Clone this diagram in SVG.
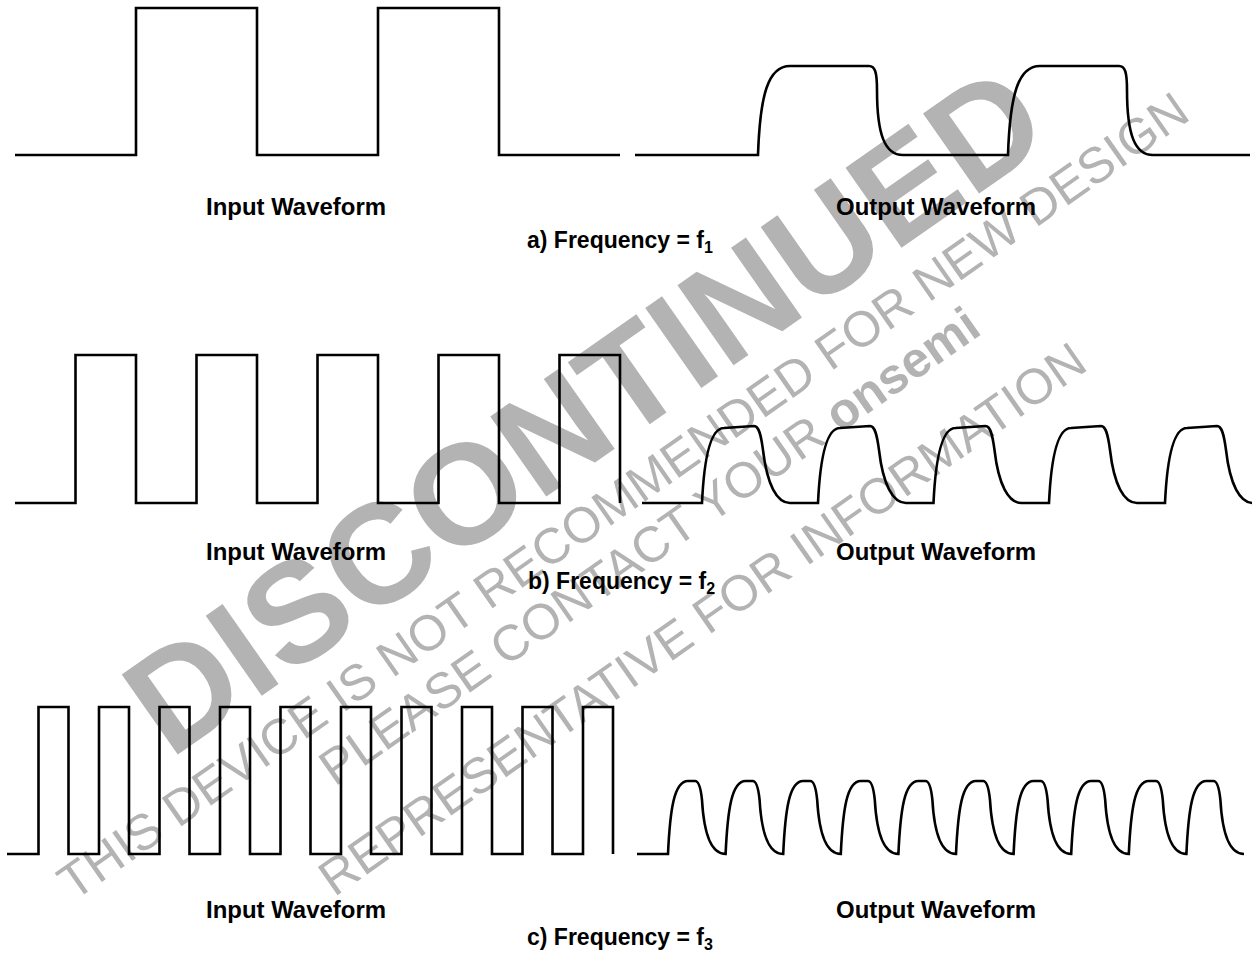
<svg xmlns="http://www.w3.org/2000/svg" width="1252" height="953" viewBox="0 0 1252 953">
<style>
.wave{fill:none;stroke:#000;stroke-width:2.6;stroke-linejoin:miter;stroke-linecap:butt}
.lbl{font-family:"Liberation Sans",Arial,Helvetica,sans-serif;font-weight:bold;font-size:23px;fill:#000}
.sub{font-size:16px}
.wm{fill:#b3b3b3;font-family:"Liberation Sans",Arial,Helvetica,sans-serif}
</style>
<rect width="1252" height="953" fill="#fff"/>
<g id="watermark">
<text class="wm" font-weight="bold" font-size="142" transform="translate(170,760) rotate(-35)">DISCONTINUED</text>
<text class="wm" font-size="50" text-anchor="middle" transform="translate(633,510) rotate(-35)">THIS DEVICE IS NOT RECOMMENDED FOR NEW DESIGN</text>
<text class="wm" font-size="50" text-anchor="middle" transform="translate(659,560) rotate(-35)">PLEASE CONTACT YOUR <tspan font-weight="bold">onsemi</tspan></text>
<text class="wm" font-size="50" text-anchor="middle" transform="translate(712,633) rotate(-35)">REPRESENTATIVE FOR INFORMATION</text>
</g>
<g id="connectors">
<path id="in-a" class="wave" d="M15,155 H136 V8 H257 V155 H378 V8 H499 V155 H620"/>
<path id="out-a" class="wave" d="M635,155 H758 C760,95 768,66 790,66 H869 C875,66 877,72 877,90 C877,135 885,155 903,155 H1008 C1010,95 1018,66 1040,66 H1119 C1125,66 1127,72 1127,90 C1127,135 1135,155 1153,155 H1250"/>
<path id="in-b" class="wave" d="M15,503 H75.5 V355 H136 V503 H196.5 V355 H257 V503 H317.5 V355 H378 V503 H438.5 V355 H499 V503 H559.5 V355 H620 V503"/>
<path id="out-b" class="wave" d="M642,503 H702 C704,460 710,428 724,428 L754,426 C759,426 761,435 763,450 C767,485 777,503 790,503 H818 C820,460 826,428 840,428 L870,426 C875,426 877,435 879,450 C883,485 893,503 906,503 H933.5 C935.5,460 941.5,428 955.5,428 L985.5,426 C990.5,426 992.5,435 994.5,450 C998.5,485 1008.5,503 1021.5,503 H1049 C1051,460 1057,428 1071,428 L1101,426 C1106,426 1108,435 1110,450 C1114,485 1124,503 1137,503 H1165 C1167,460 1173,428 1187,428 L1217,426 C1222,426 1224,435 1226,450 C1230,485 1240,503 1253,503"/>
<path id="in-c" class="wave" d="M7,854 H38.5 V707 H68.5 V854 H99 V707 H129 V854 H159.5 V707 H189.5 V854 H220 V707 H250 V854 H280.5 V707 H310.5 V854 H341 V707 H371 V854 H401.5 V707 H431.5 V854 H462 V707 H492 V854 H522.5 V707 H552.5 V854 H583 V707 H613 V854"/>
<path id="out-c" class="wave" d="M637,854 H668 C670,810 674,781 688,781 H695 C699,781 701,790 702,800 C704,835 712,854 725.6,854 C727.6,810 731.6,781 745.6,781 H752.6 C756.6,781 758.6,790 759.6,800 C761.6,835 769.6,854 783.2,854 C785.2,810 789.2,781 803.2,781 H810.2 C814.2,781 816.2,790 817.2,800 C819.2,835 827.2,854 840.8,854 C842.8,810 846.8,781 860.8,781 H867.8 C871.8,781 873.8,790 874.8,800 C876.8,835 884.8,854 898.4,854 C900.4,810 904.4,781 918.4,781 H925.4 C929.4,781 931.4,790 932.4,800 C934.4,835 942.4,854 956,854 C958,810 962,781 976,781 H983 C987,781 989,790 990,800 C992,835 1000,854 1013.6,854 C1015.6,810 1019.6,781 1033.6,781 H1040.6 C1044.6,781 1046.6,790 1047.6,800 C1049.6,835 1057.6,854 1071.2,854 C1073.2,810 1077.2,781 1091.2,781 H1098.2 C1102.2,781 1104.2,790 1105.2,800 C1107.2,835 1115.2,854 1128.8,854 C1130.8,810 1134.8,781 1148.8,781 H1155.8 C1159.8,781 1161.8,790 1162.8,800 C1164.8,835 1172.8,854 1186.4,854 C1188.4,810 1192.4,781 1206.4,781 H1213.4 C1217.4,781 1219.4,790 1220.4,800 C1222.4,835 1230.4,854 1244,854"/>
</g>
<g id="label-a">
<text class="lbl" x="296" y="215" text-anchor="middle" textLength="180" lengthAdjust="spacingAndGlyphs">Input Waveform</text>
<text class="lbl" x="936" y="215" text-anchor="middle" textLength="200" lengthAdjust="spacingAndGlyphs">Output Waveform</text>
<text class="lbl" x="527" y="248">a) Frequency = f<tspan class="sub" dy="5">1</tspan></text>
</g>
<g id="label-b">
<text class="lbl" x="296" y="560" text-anchor="middle" textLength="180" lengthAdjust="spacingAndGlyphs">Input Waveform</text>
<text class="lbl" x="936" y="560" text-anchor="middle" textLength="200" lengthAdjust="spacingAndGlyphs">Output Waveform</text>
<text class="lbl" x="528" y="589">b) Frequency = f<tspan class="sub" dy="5">2</tspan></text>
</g>
<g id="label-c">
<text class="lbl" x="296" y="918" text-anchor="middle" textLength="180" lengthAdjust="spacingAndGlyphs">Input Waveform</text>
<text class="lbl" x="936" y="918" text-anchor="middle" textLength="200" lengthAdjust="spacingAndGlyphs">Output Waveform</text>
<text class="lbl" x="527" y="945">c) Frequency = f<tspan class="sub" dy="5">3</tspan></text>
</g>
</svg>
